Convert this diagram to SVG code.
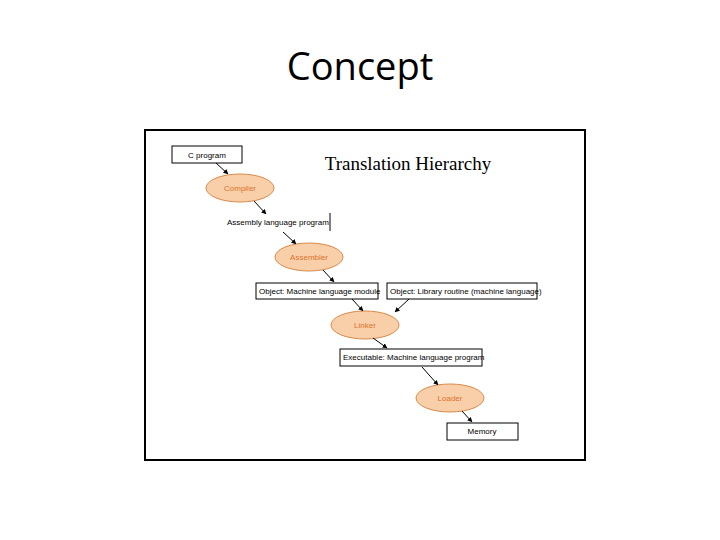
<svg xmlns="http://www.w3.org/2000/svg" width="720" height="540" viewBox="0 0 720 540">
<defs>
<marker id="ah" viewBox="0 0 10 10" refX="9" refY="5" markerWidth="5" markerHeight="5" orient="auto"><path d="M0,0L10,5L0,10z" fill="#000"/></marker>
<style>
.box{fill:#fff;stroke:#000;stroke-width:1}
.ell{fill:#f9cfaa;stroke:#d98a4a;stroke-width:1}
.t{font-family:"Liberation Sans",Arial,sans-serif;font-size:8px;fill:#000}
.o{font-family:"Liberation Sans",Arial,sans-serif;font-size:8px;fill:#d9742c;text-anchor:middle}
.c line{stroke:#000;stroke-width:1;marker-end:url(#ah)}
</style>
</defs>
<rect width="720" height="540" fill="#fff"/>
<text x="360" y="80" text-anchor="middle" font-family="'Open Sans','Liberation Sans',sans-serif" font-size="38" fill="#000">Concept</text>
<rect x="145" y="130" width="440" height="330" fill="#fff" stroke="#000" stroke-width="2"/>
<text x="408" y="170" text-anchor="middle" font-family="'Liberation Serif',serif" font-size="19" fill="#000">Translation Hierarchy</text>
<g id="cprog"><rect class="box" x="172" y="146" width="70" height="17"/><text class="t" x="207" y="158" text-anchor="middle">C program</text></g>
<g id="compiler"><ellipse class="ell" cx="240" cy="188" rx="34" ry="14"/><text class="o" x="240" y="191">Compiler</text></g>
<g id="asmprog"><text class="t" x="227" y="225">Assembly language program</text><line x1="330" y1="213" x2="330" y2="231" stroke="#000"/></g>
<g id="assembler"><ellipse class="ell" cx="309" cy="257" rx="34" ry="14"/><text class="o" x="309" y="260">Assembler</text></g>
<g id="objmod"><rect class="box" x="256" y="283" width="122" height="16"/><text class="t" x="259" y="294">Object: Machine language module</text></g>
<g id="objlib"><rect class="box" x="387" y="283" width="150" height="16"/><text class="t" x="390" y="294">Object: Library routine (machine language)</text></g>
<g id="linker"><ellipse class="ell" cx="365" cy="325" rx="34" ry="14"/><text class="o" x="365" y="328">Linker</text></g>
<g id="exe"><rect class="box" x="340" y="349" width="142" height="17"/><text class="t" x="343" y="360">Executable: Machine language program</text></g>
<g id="loader"><ellipse class="ell" cx="450" cy="398" rx="34" ry="14"/><text class="o" x="450" y="401">Loader</text></g>
<g id="memory"><rect class="box" x="447" y="423" width="71" height="17"/><text class="t" x="482" y="434" text-anchor="middle">Memory</text></g>
<g class="c" id="connectors">
<line x1="216" y1="163" x2="228" y2="174"/>
<line x1="254" y1="201" x2="266" y2="214"/>
<line x1="283" y1="232" x2="296" y2="244"/>
<line x1="323" y1="270" x2="334" y2="282"/>
<line x1="352" y1="299" x2="363" y2="311"/>
<line x1="409" y1="299" x2="395" y2="312"/>
<line x1="373" y1="338" x2="387" y2="348"/>
<line x1="422" y1="367" x2="438" y2="385"/>
<line x1="462" y1="411" x2="472" y2="422"/>
</g>
</svg>
